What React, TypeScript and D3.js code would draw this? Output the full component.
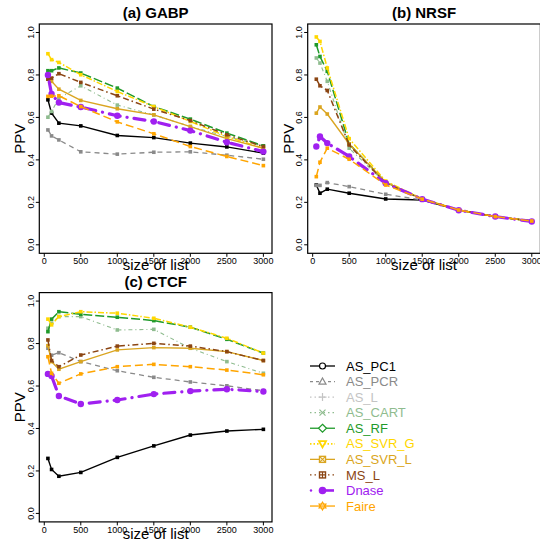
import React from "react";
import * as d3 from "d3";

const sizes = [50, 100, 200, 500, 1000, 1500, 2000, 2500, 3000];
const seriesNames = ["AS_PC1", "AS_PCR", "AS_L", "AS_CART", "AS_RF", "AS_SVR_G", "AS_SVR_L", "MS_L", "Dnase", "Faire"];
const seriesColors = ["#000000", "#8a8a8a", "#c4c4c4", "#8fbc8f", "#1f9a2a", "#ffd700", "#daa520", "#8b4513", "#a020f0", "#ffa500"];

const panelTitles = ["(a) GABP", "(b) NRSF", "(c) CTCF"];

const gabpPC1 = [0.683, 0.62, 0.573, 0.56, 0.515, 0.505, 0.479, 0.461, 0.432];
const gabpPCR = [0.541, 0.513, 0.494, 0.438, 0.427, 0.436, 0.438, 0.422, 0.403];
const gabpCART = [0.601, 0.628, 0.69, 0.749, 0.658, 0.612, 0.557, 0.51, 0.466];
const gabpRF = [0.82, 0.82, 0.833, 0.809, 0.738, 0.651, 0.592, 0.526, 0.466];
const gabpSVRG = [0.9, 0.872, 0.859, 0.801, 0.722, 0.651, 0.581, 0.51, 0.455];
const gabpSVRL = [0.78, 0.77, 0.733, 0.68, 0.641, 0.612, 0.557, 0.5, 0.455];
const gabpMSL = [0.78, 0.785, 0.806, 0.765, 0.702, 0.639, 0.585, 0.518, 0.463];
const gabpDnase = [0.8, 0.71, 0.67, 0.649, 0.608, 0.581, 0.538, 0.483, 0.439];
const gabpFaire = [0.699, 0.7, 0.702, 0.651, 0.579, 0.523, 0.463, 0.416, 0.373];

const nrsfPC1 = [0.282, 0.243, 0.262, 0.243, 0.216, 0.211, 0.164, 0.133, 0.112];
const nrsfPCR = [0.28, 0.28, 0.293, 0.274, 0.238, 0.211, 0.164, 0.133, 0.112];
const nrsfCART = [0.88, 0.856, 0.77, 0.455, 0.29, 0.215, 0.164, 0.133, 0.112];
const nrsfRF = [0.942, 0.887, 0.817, 0.475, 0.295, 0.215, 0.164, 0.133, 0.112];
const nrsfSVRG = [0.979, 0.958, 0.833, 0.5, 0.3, 0.217, 0.164, 0.133, 0.112];
const nrsfSVRL = [0.62, 0.649, 0.616, 0.475, 0.295, 0.215, 0.164, 0.133, 0.112];
const nrsfMSL = [0.78, 0.749, 0.727, 0.47, 0.29, 0.215, 0.164, 0.133, 0.112];
const nrsfDnase = [0.463, 0.51, 0.479, 0.416, 0.29, 0.215, 0.163, 0.133, 0.11];
const nrsfFaire = [0.321, 0.389, 0.455, 0.403, 0.282, 0.215, 0.164, 0.133, 0.112];

const ctcfPC1 = [0.259, 0.207, 0.175, 0.193, 0.264, 0.318, 0.369, 0.388, 0.396];
const ctcfPCR = [0.778, 0.745, 0.757, 0.715, 0.672, 0.641, 0.619, 0.601, 0.578];
const ctcfCART = [0.872, 0.896, 0.927, 0.927, 0.864, 0.867, 0.778, 0.715, 0.66];
const ctcfRF = [0.856, 0.915, 0.95, 0.938, 0.924, 0.908, 0.877, 0.82, 0.755];
const ctcfSVRG = [0.915, 0.888, 0.927, 0.95, 0.943, 0.919, 0.877, 0.825, 0.755];
const ctcfSVRL = [0.79, 0.715, 0.679, 0.715, 0.77, 0.781, 0.778, 0.762, 0.72];
const ctcfMSL = [0.817, 0.72, 0.691, 0.746, 0.788, 0.801, 0.788, 0.762, 0.72];
const ctcfDnase = [0.657, 0.647, 0.553, 0.515, 0.534, 0.562, 0.576, 0.585, 0.574];
const ctcfFaire = [0.738, 0.66, 0.613, 0.657, 0.691, 0.702, 0.691, 0.675, 0.653];

const xTicks = [0, 500, 1000, 1500, 2000, 2500, 3000];
const yTicks = [0, 0.2, 0.4, 0.6, 0.8, 1.0];

// series index -> data, per panel (AS_L not drawn: null)
const panelData = [
  [gabpPC1, gabpPCR, null, gabpCART, gabpRF, gabpSVRG, gabpSVRL, gabpMSL, gabpDnase, gabpFaire],
  [nrsfPC1, nrsfPCR, null, nrsfCART, nrsfRF, nrsfSVRG, nrsfSVRL, nrsfMSL, nrsfDnase, nrsfFaire],
  [ctcfPC1, ctcfPCR, null, ctcfCART, ctcfRF, ctcfSVRG, ctcfSVRL, ctcfMSL, ctcfDnase, ctcfFaire],
];

const lineDash = ["", "5 4", "1 3", "4 3 1 3", "9 3", "6 2 1.5 2", "", "6 3 1.5 3", "0.1 7 11 7", "8 4"];
const lineWidth = [1.4, 1.3, 1.2, 1.1, 1.5, 1.5, 1.4, 1.5, 3.2, 1.5];
const legendDash = ["", "3 3", "1.5 3", "1.5 3", "", "1.5 2", "", "1.5 3", "", ""];

const boxes = [
  { left: 39.3, top: 24, w: 232.7, h: 229.3 },
  { left: 307.7, top: 24, w: 232.7, h: 229.3 },
  { left: 39.3, top: 292.6, w: 232.7, h: 229.3 },
];

const FONT = "Liberation Sans, Arial, Helvetica, sans-serif";

function Panel({ idx }: { idx: number }) {
  const b = boxes[idx];
  const x = d3.scaleLinear().domain([50 - 0.04 * 2950, 3000 + 0.04 * 2950]).range([b.left, b.left + b.w]);
  const y = d3.scaleLinear().domain([-0.04, 1.04]).range([b.top + b.h, b.top]);
  const line = d3.line<number>().x((_, i) => x(sizes[i])).y((v) => y(v));
  const data = panelData[idx];
  const fmt = d3.format(".1f");
  return (
    <g>
      <text x={b.left + b.w / 2} y={b.top - 6} textAnchor="middle" fontFamily={FONT} fontWeight="bold" fontSize={15}>
        {panelTitles[idx]}
      </text>
      {data.map((vals, si) =>
        vals ? (
          <g key={si}>
            <path d={line(vals) || ""} fill="none" stroke={seriesColors[si]} strokeWidth={lineWidth[si]}
              strokeDasharray={lineDash[si] || undefined} strokeLinecap={si === 8 ? "round" : "butt"} />
            {vals.map((v, i) => (
              si === 8 ? (
                <circle key={i} cx={x(sizes[i])} cy={y(v)} r={3.2} fill={seriesColors[si]} />
              ) : (
                <rect key={i} x={x(sizes[i]) - 1.8} y={y(v) - 1.8} width={3.6} height={3.6} fill={seriesColors[si]} />
              )
            ))}
          </g>
        ) : null
      )}
      <rect x={b.left} y={b.top} width={b.w} height={b.h} fill="none" stroke="#000" strokeWidth={1.2} />
      {xTicks.map((t) => (
        <g key={t}>
          <line x1={x(t)} x2={x(t)} y1={b.top + b.h} y2={b.top + b.h + 3.5} stroke="#000" strokeWidth={1} />
          <text x={x(t)} y={b.top + b.h + 11} textAnchor="middle" fontFamily={FONT} fontSize={9}>{t}</text>
        </g>
      ))}
      {yTicks.map((t) => (
        <g key={t}>
          <line x1={b.left - 3.5} x2={b.left} y1={y(t)} y2={y(t)} stroke="#000" strokeWidth={1} />
          <text transform={`translate(${b.left - 5.5},${y(t)}) rotate(-90)`} textAnchor="middle" fontFamily={FONT} fontSize={9}>{fmt(t)}</text>
        </g>
      ))}
      <text x={b.left + b.w / 2} y={b.top + b.h + 16.6} textAnchor="middle" fontFamily={FONT} fontSize={15}>size of list</text>
      <text transform={`translate(${b.left - 14},${b.top + b.h / 2}) rotate(-90)`} textAnchor="middle" fontFamily={FONT} fontSize={15}>PPV</text>
    </g>
  );
}

function LegendSymbol({ i, cx, cy }: { i: number; cx: number; cy: number }) {
  const c = seriesColors[i];
  const sw = 1.2;
  switch (i) {
    case 0:
      return <circle cx={cx} cy={cy} r={3} fill="#fff" stroke={c} strokeWidth={sw} />;
    case 1:
      return <path d={`M${cx},${cy - 3.6} L${cx + 3.5},${cy + 2.6} L${cx - 3.5},${cy + 2.6} Z`} fill="#fff" stroke={c} strokeWidth={sw} />;
    case 2:
      return <path d={`M${cx - 4},${cy} H${cx + 4} M${cx},${cy - 4} V${cy + 4}`} stroke={c} strokeWidth={sw} />;
    case 3:
      return <path d={`M${cx - 3},${cy - 3} L${cx + 3},${cy + 3} M${cx - 3},${cy + 3} L${cx + 3},${cy - 3}`} stroke={c} strokeWidth={sw} />;
    case 4:
      return <path d={`M${cx},${cy - 4} L${cx + 4},${cy} L${cx},${cy + 4} L${cx - 4},${cy} Z`} fill="#fff" stroke={c} strokeWidth={sw} />;
    case 5:
      return <path d={`M${cx},${cy + 3.6} L${cx + 3.5},${cy - 2.6} L${cx - 3.5},${cy - 2.6} Z`} fill="#fff" stroke={c} strokeWidth={1.8} />;
    case 6:
      return (
        <g>
          <rect x={cx - 3} y={cy - 3} width={6} height={6} fill="#fff" stroke={c} strokeWidth={1.4} />
          <path d={`M${cx - 3},${cy - 3} L${cx + 3},${cy + 3} M${cx - 3},${cy + 3} L${cx + 3},${cy - 3}`} stroke={c} strokeWidth={1.2} />
        </g>
      );
    case 7:
      return (
        <g>
          <rect x={cx - 3} y={cy - 3} width={6} height={6} fill="#fff" stroke={c} strokeWidth={1.4} />
          <path d={`M${cx - 3},${cy} H${cx + 3} M${cx},${cy - 3} V${cy + 3}`} stroke={c} strokeWidth={1.2} />
        </g>
      );
    case 8:
      return <circle cx={cx} cy={cy} r={3.8} fill={c} />;
    default:
      return (
        <g>
          <path d={`M${cx},${cy - 4} L${cx + 3.5},${cy + 2} L${cx - 3.5},${cy + 2} Z`} fill="none" stroke={c} strokeWidth={1.1} />
          <path d={`M${cx},${cy + 4} L${cx + 3.5},${cy - 2} L${cx - 3.5},${cy - 2} Z`} fill="none" stroke={c} strokeWidth={1.1} />
        </g>
      );
  }
}

function Legend() {
  const y0 = 366;
  const step = 15.56;
  return (
    <g>
      {seriesNames.map((name, i) => {
        const cy = y0 + i * step;
        const c = seriesColors[i];
        return (
          <g key={name}>
            {i === 8 ? (
              <g>
                <circle cx={311} cy={cy} r={1.2} fill={c} />
                <line x1={322} x2={334} y1={cy} y2={cy} stroke={c} strokeWidth={2.6} />
              </g>
            ) : (
              <line x1={310} x2={335} y1={cy} y2={cy} stroke={c} strokeWidth={i === 5 ? 1.8 : 1.3}
                strokeDasharray={legendDash[i] || undefined} />
            )}
            <LegendSymbol i={i} cx={322.5} cy={cy} />
            <text x={346} y={cy + 4.6} fontFamily={FONT} fontSize={13} fill={c}>{name}</text>
          </g>
        );
      })}
    </g>
  );
}

export default function App() {
  return (
    <svg width={540} height={541} style={{ position: "absolute", left: 0, top: 0, background: "#fff" }}>
      <rect x={0} y={0} width={540} height={541} fill="#fff" />
      {[0, 1, 2].map((i) => (
        <Panel key={i} idx={i} />
      ))}
      <Legend />
    </svg>
  );
}
